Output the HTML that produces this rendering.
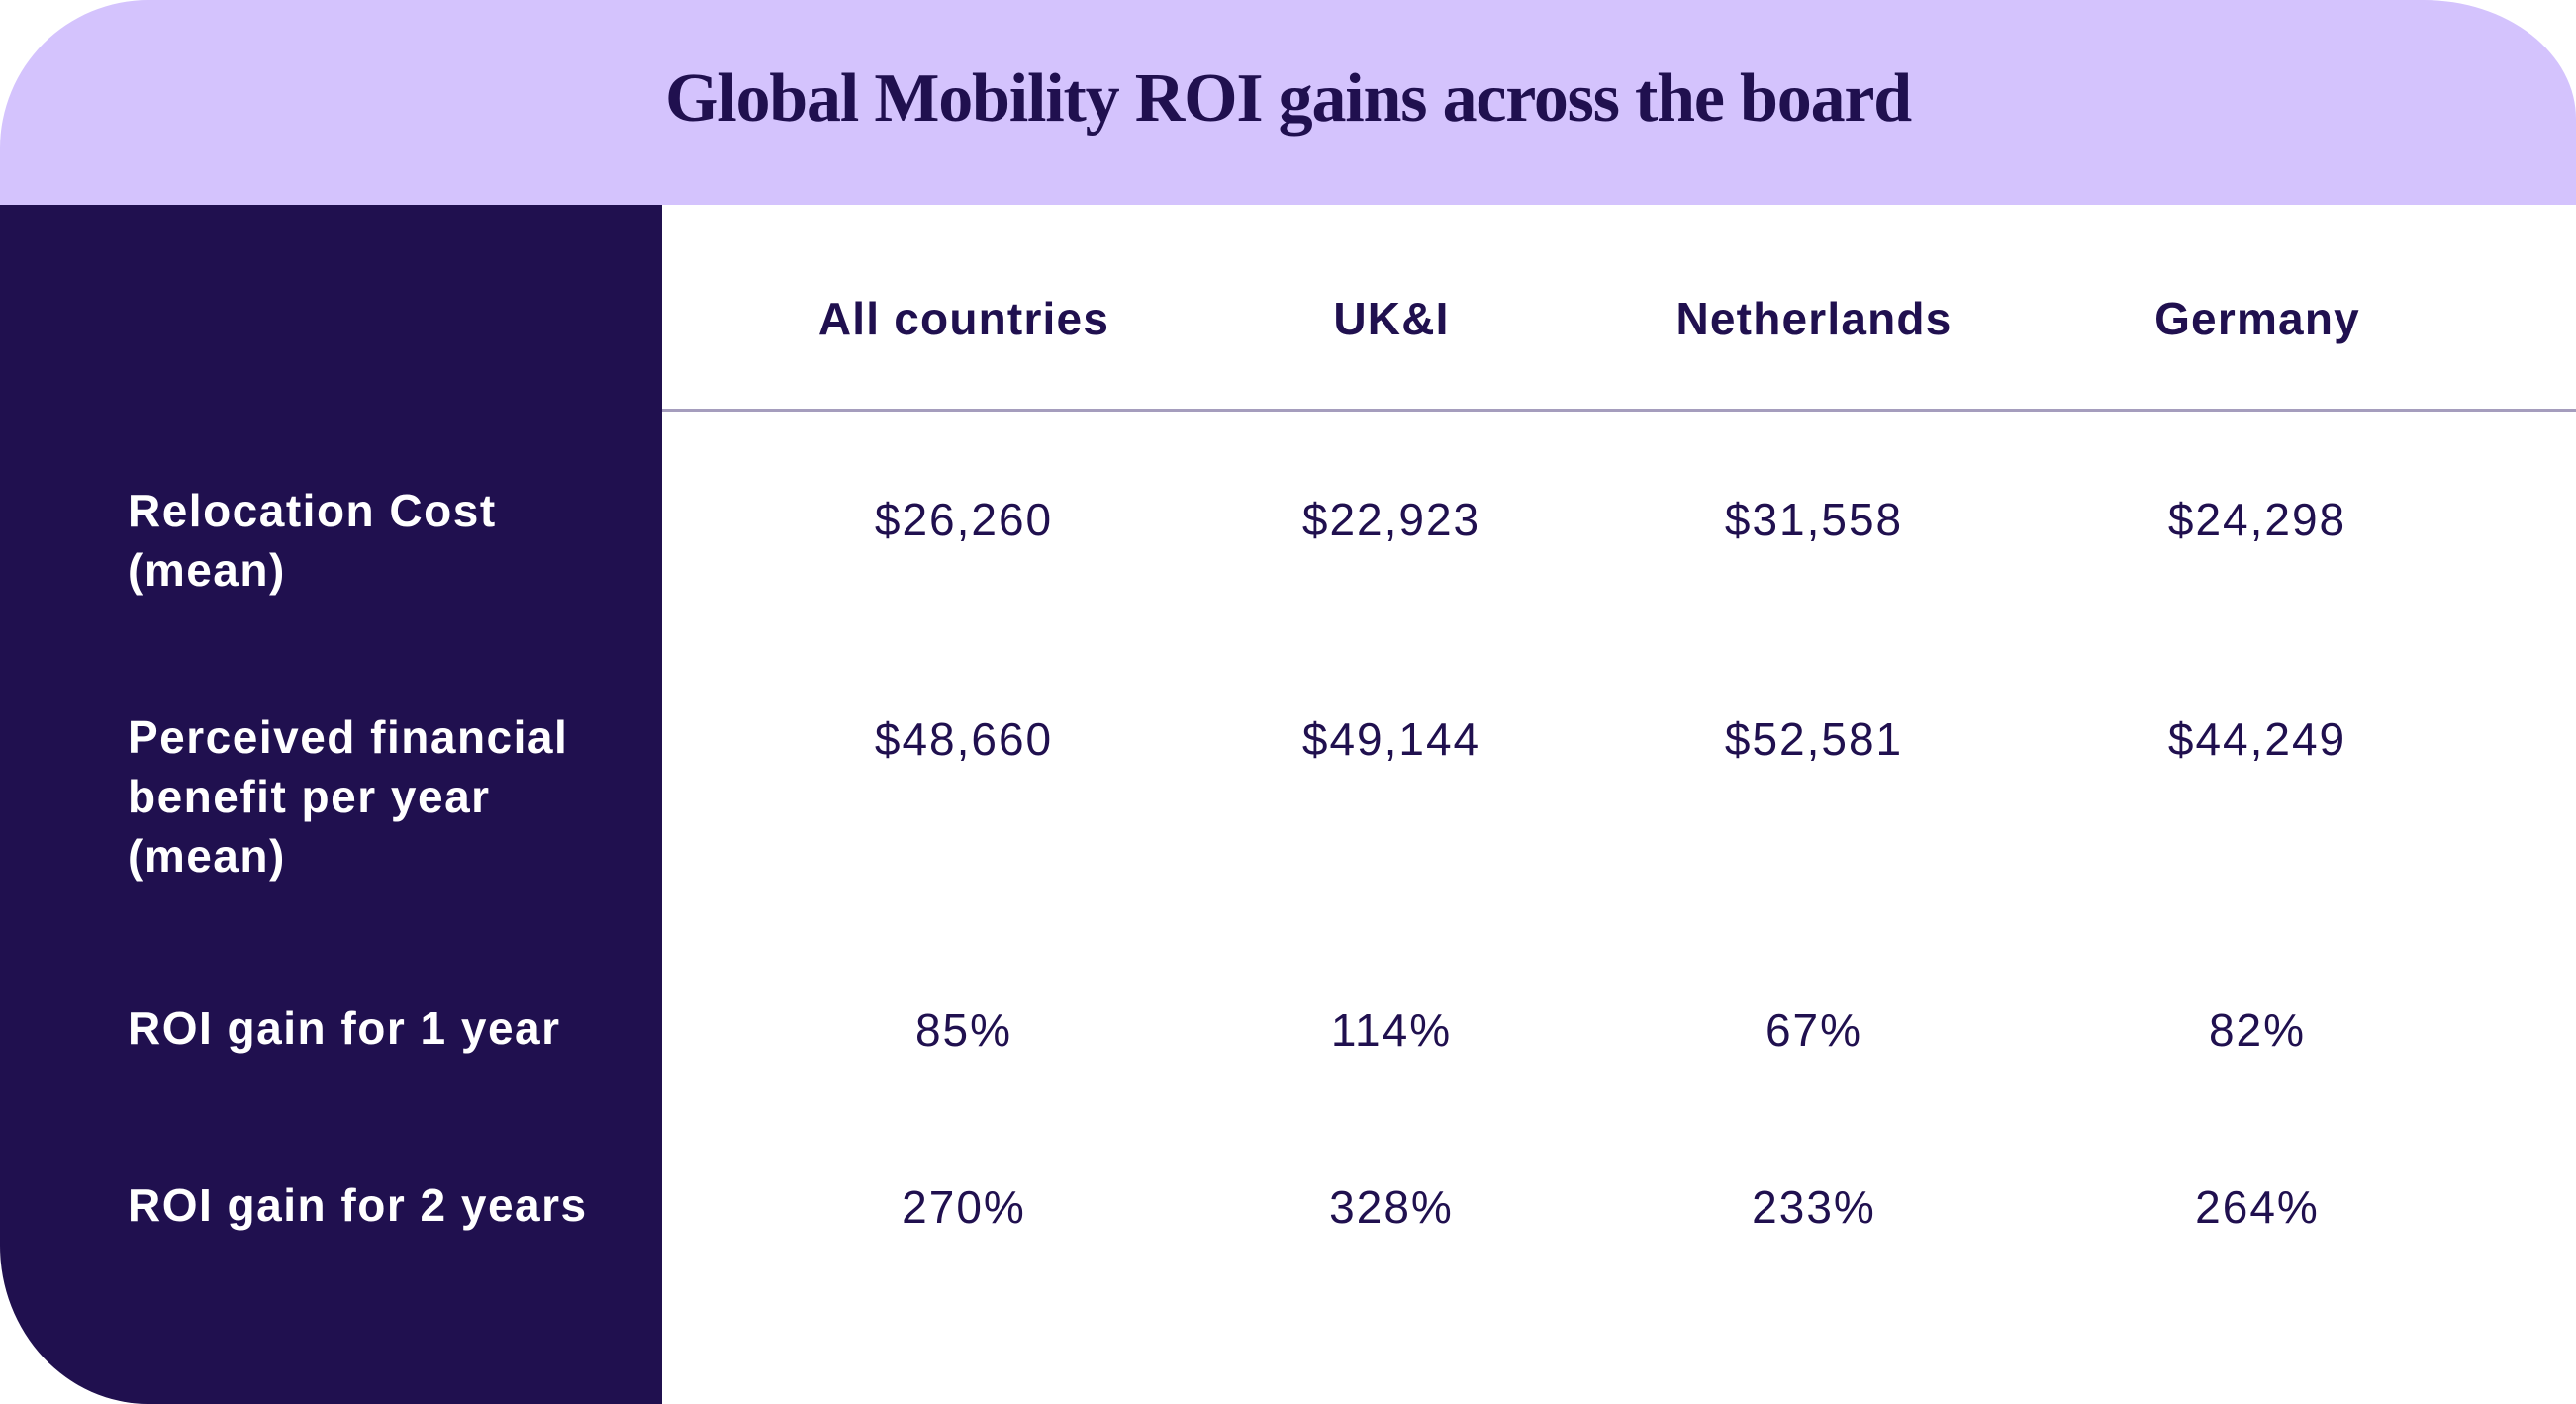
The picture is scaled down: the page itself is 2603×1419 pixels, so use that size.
<!DOCTYPE html>
<html><head><meta charset="utf-8"><style>
body{margin:0;width:2603px;height:1419px;background:#fff;overflow:hidden;position:relative;font-family:"Liberation Sans",sans-serif;color:#20104f}
#hdr{position:absolute;left:0;top:0;width:2603px;height:207px;background:#d4c3fd;border-top-left-radius:150px 150px;border-top-right-radius:154px 120px}
#side{position:absolute;left:0;top:207px;width:669px;height:1212px;background:#20104f;border-bottom-left-radius:150px 160px}
#rule{position:absolute;left:669px;top:413px;width:1934px;height:3px;background:#a59dbd}
#title{position:absolute;left:0;width:2603px;top:60px;text-align:center;font-family:"Liberation Serif",serif;font-weight:bold;font-size:70px;letter-spacing:-1.2px;color:#20104f}
.t{position:absolute;white-space:nowrap;transform:translate(-50%,-50%)}
.ch{font-size:46px;font-weight:bold;letter-spacing:1.2px}
.v{font-size:46px;letter-spacing:2px}
.rl{position:absolute;left:129px;color:#fff;font-size:46px;line-height:60px;font-weight:bold;white-space:nowrap;letter-spacing:1.5px}
</style></head><body>
<div id="hdr"></div>
<div id="title">Global Mobility ROI gains across the board</div>
<div id="side"></div>
<div id="rule"></div>
<div id="tbl"></div>
<script>
const countries=["All countries","UK&I","Netherlands","Germany"];
const rowLabels=[["Relocation Cost","(mean)"],["Perceived financial","benefit per year","(mean)"],["ROI gain for 1 year"],["ROI gain for 2 years"]];
const relocationCost=["$26,260","$22,923","$31,558","$24,298"];
const financialBenefit=["$48,660","$49,144","$52,581","$44,249"];
const roi1Year=["85%","114%","67%","82%"];
const roi2Years=["270%","328%","233%","264%"];
const rows=[relocationCost,financialBenefit,roi1Year,roi2Years];
const colX=[974,1406,1833,2281];
const rowY=[525,747,1041,1220];
const labelTop=[486,715,1009,1188];
const tbl=document.getElementById('tbl');
countries.forEach((c,i)=>{
  const d=document.createElement('div');
  d.className='t ch';
  
  
  d.style.left=colX[i]+'px';d.style.top='322px';
  d.textContent=c;tbl.appendChild(d);
});
rowLabels.forEach((l,r)=>{
  const d=document.createElement('div');
  d.className='rl';
  
  
  d.style.top=labelTop[r]+'px';
  d.innerHTML=l.join('<br>');
  tbl.appendChild(d);
});
rows.forEach((vals,r)=>{
  vals.forEach((v,i)=>{
    const d=document.createElement('div');
    d.className='t v';
    
    
    d.style.left=colX[i]+'px';d.style.top=rowY[r]+'px';
    d.textContent=v;tbl.appendChild(d);
  });
});
</script>
</body></html>
